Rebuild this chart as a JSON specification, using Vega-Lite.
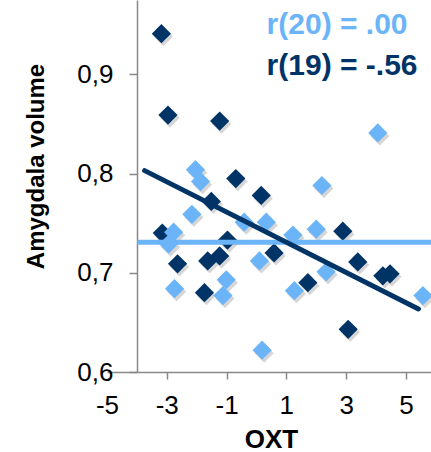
{
  "$schema": "https://vega.github.io/schema/vega-lite/v6.json",
  "width": 324,
  "height": 372,
  "autosize": "none",
  "padding": {"left": 107, "top": 0, "right": 0, "bottom": 80},
  "background": "white",
  "config": {"view": {"stroke": null}, "font": "Liberation Sans"},
  "datasets": {
    "points": [
      {"group": "dark", "OXT": -3.18, "vol": 0.941},
      {"group": "dark", "OXT": -2.96, "vol": 0.859},
      {"group": "dark", "OXT": -1.23, "vol": 0.853},
      {"group": "dark", "OXT": -0.69, "vol": 0.795},
      {"group": "dark", "OXT": 0.16, "vol": 0.778},
      {"group": "dark", "OXT": -1.51, "vol": 0.772},
      {"group": "dark", "OXT": -3.15, "vol": 0.740},
      {"group": "dark", "OXT": -0.97, "vol": 0.733},
      {"group": "dark", "OXT": 2.89, "vol": 0.742},
      {"group": "dark", "OXT": 0.59, "vol": 0.720},
      {"group": "dark", "OXT": -2.64, "vol": 0.709},
      {"group": "dark", "OXT": -1.63, "vol": 0.712},
      {"group": "dark", "OXT": -1.23, "vol": 0.717},
      {"group": "dark", "OXT": 3.39, "vol": 0.711},
      {"group": "dark", "OXT": 4.23, "vol": 0.697},
      {"group": "dark", "OXT": 4.47, "vol": 0.699},
      {"group": "dark", "OXT": 1.72, "vol": 0.690},
      {"group": "dark", "OXT": -1.74, "vol": 0.680},
      {"group": "dark", "OXT": 3.07, "vol": 0.643},
      {"group": "light", "OXT": -2.04, "vol": 0.804},
      {"group": "light", "OXT": -1.87, "vol": 0.792},
      {"group": "light", "OXT": 4.06, "vol": 0.841},
      {"group": "light", "OXT": 2.19, "vol": 0.788},
      {"group": "light", "OXT": -2.16, "vol": 0.759},
      {"group": "light", "OXT": -0.41, "vol": 0.751},
      {"group": "light", "OXT": 0.33, "vol": 0.751},
      {"group": "light", "OXT": 2.0, "vol": 0.744},
      {"group": "light", "OXT": -2.77, "vol": 0.741},
      {"group": "light", "OXT": -2.94, "vol": 0.729},
      {"group": "light", "OXT": 1.22, "vol": 0.738},
      {"group": "light", "OXT": 0.10, "vol": 0.712},
      {"group": "light", "OXT": 2.33, "vol": 0.701},
      {"group": "light", "OXT": 1.27, "vol": 0.682},
      {"group": "light", "OXT": -2.74, "vol": 0.684},
      {"group": "light", "OXT": -1.01, "vol": 0.693},
      {"group": "light", "OXT": -1.12, "vol": 0.677},
      {"group": "light", "OXT": 5.57, "vol": 0.677},
      {"group": "light", "OXT": 0.19, "vol": 0.622}
    ],
    "lines": [
      {"group": "light", "OXT": -3.91, "vol": 0.7307},
      {"group": "light", "OXT": 5.84, "vol": 0.7307},
      {"group": "dark", "OXT": -3.74, "vol": 0.803},
      {"group": "dark", "OXT": 5.42, "vol": 0.6636}
    ],
    "labels": [
      {"group": "light", "OXT": 0.34, "vol": 0.9409, "text": "r(20) = .00"},
      {"group": "dark", "OXT": 0.34, "vol": 0.8996, "text": "r(19) = -.56"}
    ]
  },
  "layer": [
    {
      "data": {"name": "points"},
      "mark": {"type": "point", "shape": "diamond", "filled": true, "size": 370, "color": "#000000", "opacity": 0.16, "xOffset": 2, "yOffset": 3},
      "encoding": {
        "x": {
          "field": "OXT", "type": "quantitative",
          "scale": {"domain": [-5, 5.84], "nice": false, "zero": false},
          "axis": {
            "values": [-5, -3, -1, 1, 3, 5],
            "labelExpr": "datum.value < 0 ? '-' + abs(datum.value) : '' + datum.value",
            "title": "OXT",
            "grid": false,
            "labelFontSize": 26,
            "labelColor": "#000000",
            "labelFlush": false,
            "labelPadding": 13,
            "tickSize": 7,
            "tickColor": "#888888",
            "tickOpacity": {"condition": {"test": "datum.value == -5", "value": 0}, "value": 1},
            "domainColor": "#888888",
            "domainWidth": 1.5,
            "tickWidth": 1.5,
            "titleFontSize": 26,
            "titleFontWeight": "bold",
            "titleColor": "#000000",
            "titleBaseline": "alphabetic",
            "titleY": 75.5,
            "titleX": 164
          }
        },
        "y": {
          "field": "vol", "type": "quantitative",
          "scale": {"domain": [0.6, 0.975], "nice": false, "zero": false},
          "axis": {
            "values": [0.6, 0.7, 0.8, 0.9],
            "labelExpr": "replace(format(datum.value, '.1f'), '.', ',')",
            "offset": -30,
            "title": "Amygdala volume",
            "grid": false,
            "labelFontSize": 26,
            "labelColor": "#000000",
            "labelPadding": 16,
            "tickSize": 8,
            "tickColor": "#888888",
            "tickWidth": 1.5,
            "domainColor": "#888888",
            "domainWidth": 1.5,
            "titleFontSize": 24,
            "titleFontWeight": "bold",
            "titleColor": "#000000",
            "titleBaseline": "alphabetic",
            "titleX": -94,
            "titleY": 166
          }
        }
      }
    },
    {
      "data": {"name": "points"},
      "mark": {"type": "point", "shape": "diamond", "filled": true, "size": 370, "opacity": 1},
      "encoding": {
        "x": {"field": "OXT", "type": "quantitative"},
        "y": {"field": "vol", "type": "quantitative"},
        "color": {"field": "group", "type": "nominal", "scale": {"domain": ["dark", "light"], "range": ["#003366", "#6cb4f8"]}, "legend": null}
      }
    },
    {
      "data": {"name": "lines"},
      "mark": {"type": "line", "strokeWidth": 5, "strokeCap": "round"},
      "encoding": {
        "x": {"field": "OXT", "type": "quantitative"},
        "y": {"field": "vol", "type": "quantitative"},
        "detail": {"field": "group"},
        "color": {"field": "group", "type": "nominal", "legend": null},
        "order": {"field": "OXT"}
      }
    },
    {
      "data": {"name": "labels"},
      "mark": {"type": "text", "align": "left", "baseline": "alphabetic", "fontSize": 30, "fontWeight": "bold"},
      "encoding": {
        "x": {"field": "OXT", "type": "quantitative"},
        "y": {"field": "vol", "type": "quantitative"},
        "text": {"field": "text"},
        "color": {"field": "group", "type": "nominal", "legend": null}
      }
    }
  ]
}
